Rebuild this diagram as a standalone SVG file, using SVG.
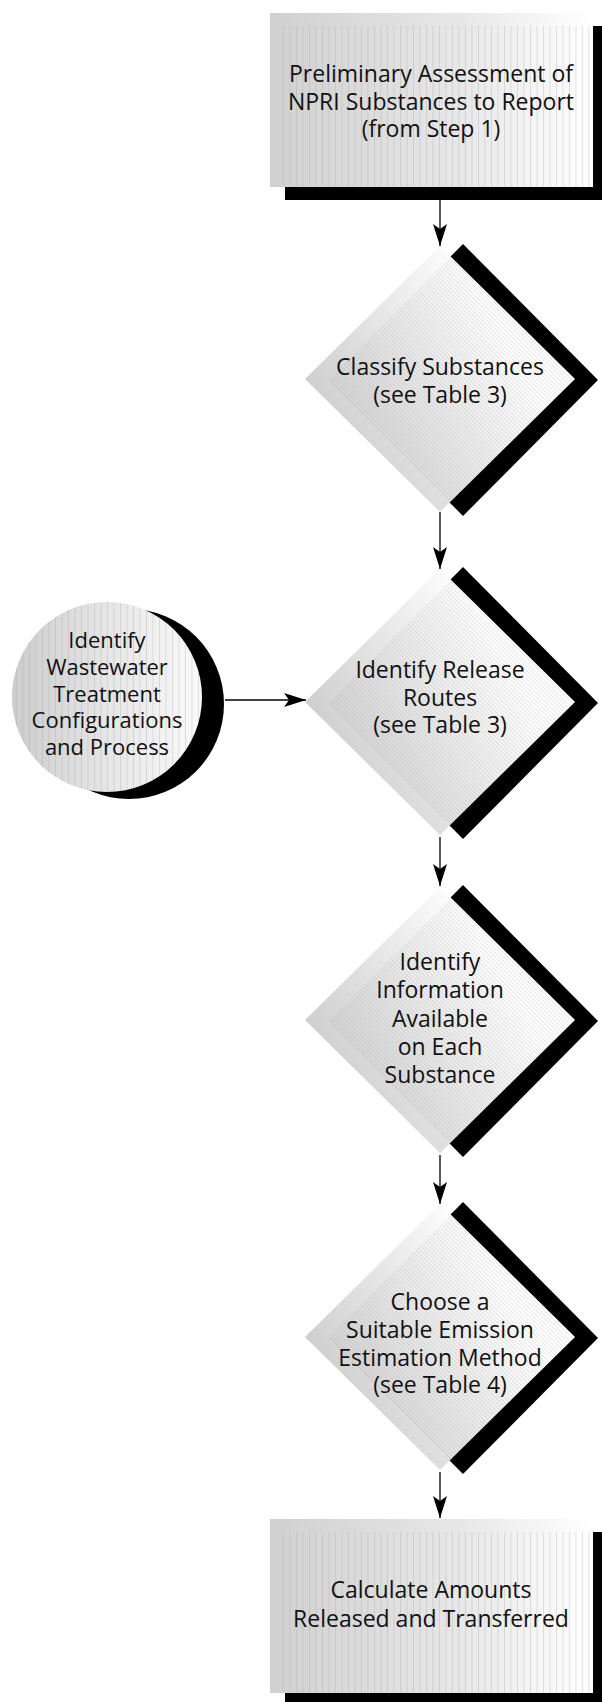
<svg xmlns="http://www.w3.org/2000/svg" xmlns:xlink="http://www.w3.org/1999/xlink" width="602" height="1702" viewBox="0 0 602 1702">
<style>
.t{font-family:"Open Sans","Noto Sans",sans-serif;font-size:23px;fill:#111;text-anchor:middle}
.tc{font-size:22px}
.sh{fill:#000}
.conn{stroke:#000;stroke-width:1.3;fill:none}
</style>
<defs>
<linearGradient id="gBox" x1="0" y1="0" x2="1" y2="0">
<stop offset="0" stop-color="#d0d0d0"/><stop offset="0.6" stop-color="#e8e8e8"/><stop offset="1" stop-color="#ffffff"/>
</linearGradient>
<linearGradient id="gCirc" x1="0" y1="0" x2="1" y2="0">
<stop offset="0" stop-color="#cccccc"/><stop offset="0.5" stop-color="#e6e6e6"/><stop offset="1" stop-color="#fafafa"/>
</linearGradient>
<linearGradient id="gDia" x1="0" y1="0.6" x2="0.7" y2="0.25">
<stop offset="0" stop-color="#cccccc"/><stop offset="1" stop-color="#ffffff"/>
</linearGradient>
<pattern id="pV" patternUnits="userSpaceOnUse" width="6.5" height="10">
<rect x="0" y="0" width="0.8" height="10" fill="#a8a8a8" fill-opacity="0.4"/>
</pattern>
<pattern id="pD" patternUnits="userSpaceOnUse" width="3" height="3" patternTransform="rotate(45)">
<rect x="0" y="0" width="3" height="0.6" fill="#909090" fill-opacity="0.35"/>
</pattern>
<clipPath id="cCirc"><circle cx="0" cy="0" r="95"/></clipPath>
<marker id="arr" viewBox="0 0 22 14" refX="22" refY="7" markerWidth="22" markerHeight="14" orient="auto" markerUnits="userSpaceOnUse">
<path d="M0,0 L22,7 L0,14 L5,7 Z" fill="#000"/>
</marker>
<g id="diamond">
<path class="sh" d="M23,-135 L158,1 L23,137 L-112,1 Z"/>
<path d="M0,-133 L135,0 L0,133 L-135,0 Z" fill="url(#gDia)"/>
<path d="M-112,1 L11,-122 L135,0 L10,124 Z" fill="url(#pD)"/>
</g>
<g id="box">
<rect class="sh" x="15" y="13" width="340" height="174"/>
<rect x="0" y="0" width="323" height="174" fill="url(#gBox)"/>
<rect x="10" y="13" width="313" height="161" fill="url(#pV)"/>
</g>
</defs>

<g id="connectors">
<line class="conn" x1="440" y1="200" x2="440" y2="246" marker-end="url(#arr)"/>
<line class="conn" x1="440" y1="512" x2="440" y2="569" marker-end="url(#arr)"/>
<line class="conn" x1="225" y1="700" x2="306" y2="700" marker-end="url(#arr)"/>
<line class="conn" x1="440" y1="837" x2="440" y2="886" marker-end="url(#arr)"/>
<line class="conn" x1="440" y1="1155" x2="440" y2="1204" marker-end="url(#arr)"/>
<line class="conn" x1="440" y1="1472" x2="440" y2="1518" marker-end="url(#arr)"/>
</g>

<g id="n1">
<use xlink:href="#box" x="270" y="13"/>
<text class="t" x="431" y="82">Preliminary Assessment of</text>
<text class="t" x="431" y="110">NPRI Substances to Report</text>
<text class="t" x="431" y="137">(from Step 1)</text>
</g>

<g id="n2">
<use xlink:href="#diamond" transform="translate(440,379)"/>
<text class="t" x="440" y="375">Classify Substances</text>
<text class="t" x="440" y="403">(see Table 3)</text>
</g>

<g id="n3">
<g transform="translate(107,697)">
<circle class="sh" cx="22" cy="7" r="95"/>
<circle cx="0" cy="0" r="95" fill="url(#gCirc)"/>
<rect x="-95" y="-95" width="190" height="190" fill="url(#pV)" clip-path="url(#cCirc)"/>
</g>
<text class="t tc" x="107" y="648">Identify</text>
<text class="t tc" x="107" y="675">Wastewater</text>
<text class="t tc" x="107" y="702">Treatment</text>
<text class="t tc" x="107" y="728">Configurations</text>
<text class="t tc" x="107" y="755">and Process</text>
</g>

<g id="n4">
<use xlink:href="#diamond" transform="translate(440,702)"/>
<text class="t" x="440" y="678">Identify Release</text>
<text class="t" x="440" y="706">Routes</text>
<text class="t" x="440" y="733">(see Table 3)</text>
</g>

<g id="n5">
<use xlink:href="#diamond" transform="translate(440,1020)"/>
<text class="t" x="440" y="970">Identify</text>
<text class="t" x="440" y="998">Information</text>
<text class="t" x="440" y="1027">Available</text>
<text class="t" x="440" y="1055">on Each</text>
<text class="t" x="440" y="1083">Substance</text>
</g>

<g id="n6">
<use xlink:href="#diamond" transform="translate(440,1337)"/>
<text class="t" x="440" y="1310">Choose a</text>
<text class="t" x="440" y="1338">Suitable Emission</text>
<text class="t" x="440" y="1366">Estimation Method</text>
<text class="t" x="440" y="1393">(see Table 4)</text>
</g>

<g id="n7">
<use xlink:href="#box" x="270" y="1519"/>
<text class="t" x="431" y="1598">Calculate Amounts</text>
<text class="t" x="431" y="1627">Released and Transferred</text>
</g>
</svg>
